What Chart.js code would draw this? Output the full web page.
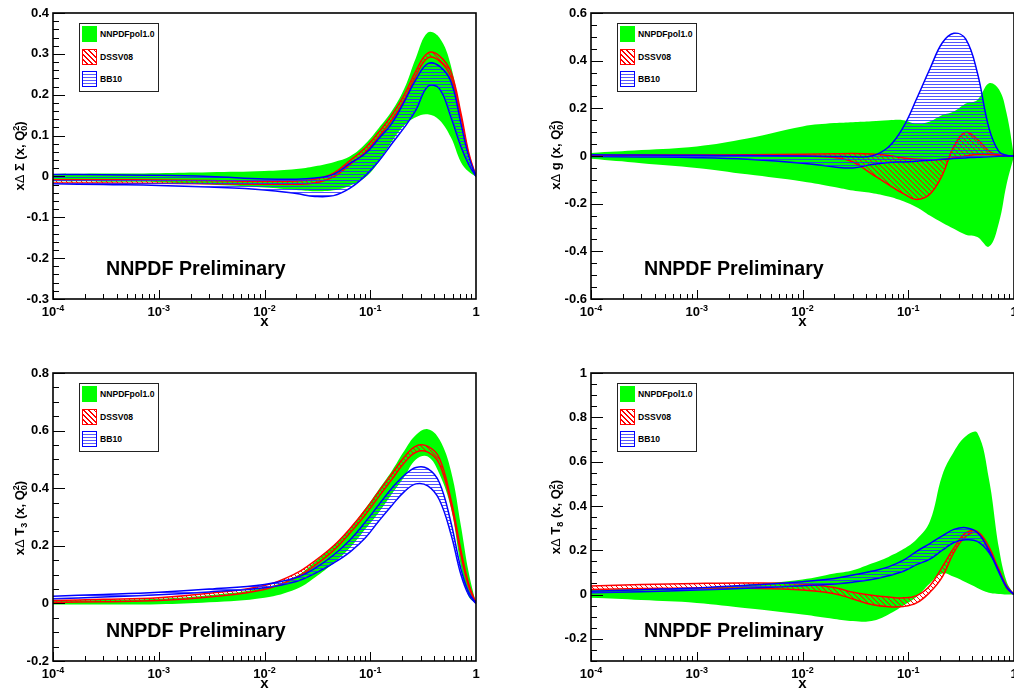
<!DOCTYPE html>
<html>
<head>
<meta charset="utf-8">
<script src="https://cdn.jsdelivr.net/npm/chart.js@4.4.1/dist/chart.umd.min.js"></script>
<style>
html,body{margin:0;padding:0;width:1014px;height:689px;overflow:hidden;background:#fff;
  font-family:'Liberation Sans',Arial,Helvetica,sans-serif;}
.panel{position:absolute;}
.panel canvas{display:block;}
.legend{position:absolute;width:80px;height:69px;border:1px solid #222;background:#fff;box-sizing:border-box;z-index:5;}
.li{position:absolute;left:2px;height:16px;display:flex;align-items:center;font-weight:bold;font-size:8.6px;color:#000;white-space:nowrap;}
.sw{width:15px;height:16px;box-sizing:border-box;margin-right:3px;flex:none;}
.sw.g{background:#00ff00;}
.sw.r{border:1.5px solid #ff0000;background:repeating-linear-gradient(45deg,#fff 0 2.6px,#ff0000 2.6px 3.6px);}
.sw.b{border:1.5px solid #0000ff;background:repeating-linear-gradient(0deg,#fff 0 2px,#5a5aff 2px 3px);}
.ytitle{position:absolute;transform:translate(-50%,-50%) rotate(-90deg);white-space:nowrap;font-weight:bold;font-size:13px;color:#000;z-index:5;}
.ytitle .d{font-weight:normal;}
.ss{display:inline-flex;flex-direction:column;font-size:9px;line-height:8px;vertical-align:5px;}
.sb{font-size:9px;vertical-align:-3px;}
.prelim{position:absolute;font-weight:bold;font-size:19.6px;line-height:20px;color:#000;white-space:nowrap;z-index:5;}
</style>
</head>
<body>
<script>
// ---------------- data ----------------
const X = [1e-4, 3e-4, 1e-3, 3e-3, 0.01, 0.02, 0.03, 0.045, 0.065, 0.09, 0.12, 0.16, 0.21, 0.27, 0.35, 0.45, 0.58, 0.72, 0.85, 1];

const X_TICK_BASE = ['10', '10', '10', '10', '1'];
const X_TICK_SUP  = ['-4', '-3', '-2', '-1', ''];
const X_TICK_VALUES = [1e-4, 1e-3, 1e-2, 1e-1, 1];

const SERIES_NAMES = ['NNPDFpol1.0', 'DSSV08', 'BB10'];

// x Delta Sigma
const SIGMA_NNPDF_UP = [0.006,0.007,0.008,0.010,0.013,0.018,0.025,0.035,0.050,0.080,0.118,0.160,0.215,0.290,0.352,0.340,0.270,0.140,0.045,0];
const SIGMA_NNPDF_LO = [-0.012,-0.013,-0.014,-0.020,-0.027,-0.033,-0.036,-0.034,-0.022,-0.002,0.035,0.085,0.125,0.145,0.152,0.138,0.095,0.035,0.012,0];
const SIGMA_DSSV_UP  = [-0.008,-0.008,-0.009,-0.010,-0.012,-0.011,-0.007,0.008,0.040,0.070,0.108,0.150,0.200,0.258,0.302,0.295,0.255,0.155,0.060,0];
const SIGMA_DSSV_LO  = [-0.016,-0.016,-0.017,-0.018,-0.019,-0.019,-0.016,-0.001,0.030,0.060,0.097,0.138,0.188,0.246,0.290,0.283,0.243,0.145,0.054,0];
const SIGMA_BB10_UP  = [0.005,0.004,0.003,0.000,-0.006,-0.007,-0.004,0.005,0.033,0.056,0.092,0.130,0.183,0.237,0.276,0.270,0.232,0.130,0.050,0];
const SIGMA_BB10_LO  = [-0.018,-0.020,-0.022,-0.026,-0.033,-0.042,-0.049,-0.047,-0.028,0.002,0.037,0.080,0.120,0.162,0.220,0.215,0.145,0.073,0.030,0];
const SIGMA_Y_TICKS  = [-0.3,-0.2,-0.1,0,0.1,0.2,0.3,0.4];

// x Delta g
const G_NNPDF_UP = [0.013,0.025,0.040,0.073,0.124,0.138,0.142,0.146,0.150,0.150,0.135,0.145,0.172,0.187,0.220,0.235,0.305,0.280,0.180,0];
const G_NNPDF_LO = [-0.012,-0.030,-0.050,-0.077,-0.107,-0.130,-0.145,-0.155,-0.170,-0.190,-0.215,-0.250,-0.280,-0.305,-0.330,-0.340,-0.380,-0.280,-0.120,0];
const G_DSSV_A   = [0.002,0.002,0.002,0.002,0.000,-0.006,-0.025,-0.075,-0.120,-0.158,-0.182,-0.160,-0.080,0.040,0.099,0.070,0.020,0.004,0.001,0];
const G_DSSV_B   = [0.003,0.004,0.004,0.005,0.007,0.009,0.010,0.008,0.002,-0.008,-0.014,-0.016,-0.015,-0.008,0.000,0.006,0.006,0.003,0.001,0];
const G_BB10_UP  = [0.005,0.004,0.003,0.002,0.000,-0.002,-0.003,0.000,0.038,0.122,0.240,0.365,0.475,0.515,0.490,0.350,0.117,0.018,0.003,0];
const G_BB10_LO  = [-0.002,-0.004,-0.007,-0.014,-0.030,-0.046,-0.050,-0.036,-0.027,-0.025,-0.022,-0.018,-0.014,-0.011,-0.008,-0.005,-0.003,-0.001,0,0];
const G_Y_TICKS  = [-0.6,-0.4,-0.2,0,0.2,0.4,0.6];

// x Delta T3
const T3_NNPDF_UP = [0.010,0.012,0.016,0.028,0.054,0.095,0.145,0.200,0.262,0.330,0.395,0.460,0.530,0.585,0.605,0.570,0.460,0.270,0.110,0];
const T3_NNPDF_LO = [-0.004,-0.004,-0.003,0.004,0.020,0.050,0.090,0.140,0.195,0.258,0.315,0.380,0.440,0.500,0.510,0.450,0.330,0.130,0.025,0];
const T3_DSSV_UP  = [0.010,0.014,0.020,0.035,0.062,0.105,0.148,0.200,0.262,0.325,0.388,0.450,0.508,0.546,0.545,0.505,0.360,0.185,0.070,0];
const T3_DSSV_LO  = [0.003,0.006,0.010,0.022,0.048,0.090,0.132,0.184,0.246,0.308,0.370,0.430,0.488,0.525,0.525,0.485,0.345,0.170,0.060,0];
const T3_BB10_UP  = [0.025,0.031,0.039,0.050,0.066,0.090,0.122,0.168,0.222,0.283,0.342,0.400,0.445,0.472,0.468,0.420,0.280,0.120,0.040,0];
const T3_BB10_LO  = [0.016,0.022,0.030,0.040,0.054,0.076,0.104,0.140,0.180,0.228,0.285,0.340,0.388,0.415,0.408,0.360,0.240,0.100,0.030,0];
const T3_Y_TICKS  = [-0.2,0,0.2,0.4,0.6,0.8];

// x Delta T8
const T8_NNPDF_UP = [0.022,0.025,0.030,0.045,0.068,0.095,0.110,0.140,0.170,0.205,0.250,0.330,0.540,0.645,0.715,0.730,0.520,0.210,0.060,0];
const T8_NNPDF_LO = [-0.015,-0.025,-0.038,-0.062,-0.090,-0.110,-0.120,-0.120,-0.090,-0.050,-0.010,0.050,0.095,0.080,0.055,0.030,0.008,0.002,0.000,0];
const T8_DSSV_UP  = [0.038,0.045,0.050,0.052,0.048,0.032,0.010,-0.003,-0.011,-0.015,-0.005,0.040,0.125,0.210,0.278,0.285,0.215,0.110,0.040,0];
const T8_DSSV_LO  = [0.023,0.027,0.030,0.028,0.020,0.004,-0.020,-0.045,-0.055,-0.054,-0.038,0.010,0.080,0.190,0.262,0.278,0.195,0.114,0.030,0];
const T8_BB10_UP  = [0.015,0.022,0.030,0.042,0.058,0.072,0.088,0.105,0.125,0.155,0.195,0.230,0.265,0.294,0.302,0.280,0.200,0.100,0.035,0];
const T8_BB10_LO  = [0.008,0.013,0.020,0.028,0.040,0.048,0.056,0.068,0.085,0.105,0.135,0.160,0.200,0.235,0.247,0.240,0.190,0.105,0.032,0];
const T8_Y_TICKS  = [-0.2,0,0.2,0.4,0.6,0.8,1];

// ---------------- drawing ----------------
const FONT = "'Liberation Sans', Arial, Helvetica, sans-serif";
Chart.defaults.font.family = FONT;
Chart.defaults.color = '#000';

function hatch(kind, color) {
  const c = document.createElement('canvas');
  const g = c.getContext('2d');
  if (kind === 'diag') {
    const s = 5; c.width = s; c.height = s;
    g.strokeStyle = color; g.lineWidth = 1;
    g.beginPath();
    g.moveTo(-1, -1); g.lineTo(s + 1, s + 1);
    g.moveTo(s - 1, -1); g.lineTo(s + 1, 1);
    g.moveTo(-1, s - 1); g.lineTo(1, s + 1);
    g.stroke();
  } else {
    c.width = 4; c.height = 3;
    g.fillStyle = color; g.fillRect(0, 0, 4, 1);
  }
  return g.createPattern(c, 'repeat');
}
const RED_HATCH = hatch('diag', '#ff0000');
const BLUE_HATCH = hatch('horiz', 'rgba(40,40,255,0.8)');

const rootAxes = {
  id: 'rootAxes',
  afterDraw(chart, args, o) {
    const { ctx, chartArea: a } = chart;
    const xs = chart.scales.x, ys = chart.scales.y;
    ctx.save();
    ctx.strokeStyle = '#000';
    ctx.lineWidth = 1;
    ctx.beginPath();
    const n = Math.round((ys.max - ys.min) / o.yMinor);
    for (let i = 0; i <= n; i++) {
      const v = ys.min + i * o.yMinor;
      const r = v / o.yMajor;
      const major = Math.abs(r - Math.round(r)) < 1e-6;
      const py = Math.round(ys.getPixelForValue(v)) + 0.5;
      ctx.moveTo(a.left, py); ctx.lineTo(a.left + (major ? 12 : 6), py);
    }
    for (let d = -4; d < 0; d++) {
      for (let k = 1; k < 10; k++) {
        const px = Math.round(xs.getPixelForValue(k * Math.pow(10, d))) + 0.5;
        ctx.moveTo(px, a.bottom); ctx.lineTo(px, a.bottom - (k === 1 ? 9 : 5));
      }
    }
    ctx.stroke();
    ctx.lineWidth = 1.6;
    ctx.strokeRect(a.left, a.top, a.right - a.left, a.bottom - a.top);
    ctx.fillStyle = '#000';
    ctx.textBaseline = 'alphabetic';
    ctx.textAlign = 'left';
    const by = a.bottom + 17;
    X_TICK_VALUES.forEach((val, i) => {
      const px = xs.getPixelForValue(val);
      ctx.font = 'bold 13px ' + FONT;
      const wb = ctx.measureText(X_TICK_BASE[i]).width;
      ctx.font = 'bold 9px ' + FONT;
      const ws = X_TICK_SUP[i] ? ctx.measureText(X_TICK_SUP[i]).width : 0;
      const x0 = px - (wb + ws) / 2;
      ctx.font = 'bold 13px ' + FONT;
      ctx.fillText(X_TICK_BASE[i], x0, by);
      if (X_TICK_SUP[i]) {
        ctx.font = 'bold 9px ' + FONT;
        ctx.fillText(X_TICK_SUP[i], x0 + wb, by - 5.5);
      }
    });
    ctx.font = 'bold 15px ' + FONT;
    ctx.textAlign = 'center';
    ctx.fillText('x', (a.left + a.right) / 2, a.bottom + 27);
    ctx.restore();
  }
};

function pts(arr) { return X.map((x, i) => ({ x: x, y: arr[i] })); }

function bandSets(up, lo, kind) {
  const base = { pointRadius: 0, pointHoverRadius: 0, tension: 0.4, cubicInterpolationMode: 'default' };
  if (kind === 'green') {
    return [
      Object.assign({ label: SERIES_NAMES[0], data: pts(up), borderWidth: 0, borderColor: 'rgba(0,0,0,0)', backgroundColor: '#00ff00', fill: '+1', order: 3 }, base),
      Object.assign({ label: SERIES_NAMES[0] + ' lo', data: pts(lo), borderWidth: 0, borderColor: 'rgba(0,0,0,0)', fill: false, order: 3 }, base)
    ];
  }
  if (kind === 'red') {
    return [
      Object.assign({ label: SERIES_NAMES[1], data: pts(up), borderWidth: 1.5, borderColor: '#ff0000', backgroundColor: RED_HATCH, fill: '+1', order: 2 }, base),
      Object.assign({ label: SERIES_NAMES[1] + ' lo', data: pts(lo), borderWidth: 1.5, borderColor: '#ff0000', fill: false, order: 2 }, base)
    ];
  }
  return [
    Object.assign({ label: SERIES_NAMES[2], data: pts(up), borderWidth: 1.5, borderColor: '#0000ff', backgroundColor: BLUE_HATCH, fill: '+1', order: 1 }, base),
    Object.assign({ label: SERIES_NAMES[2] + ' lo', data: pts(lo), borderWidth: 1.5, borderColor: '#0000ff', fill: false, order: 1 }, base)
  ];
}

const PANELS = [
  { left: 0,   top: 0,   w: 500, h: 340, area: { l: 53, t: 13,  r: 476,  b: 299 }, yMin: -0.3, yMax: 0.4, ticks: SIGMA_Y_TICKS, major: 0.1, minor: 0.02,
    title: 'x<span class="d">&#916;</span> &Sigma; (x, Q<span class="ss"><span>2</span><span>0</span></span>)', tx: 20, ty: 156,
    bands: [[SIGMA_NNPDF_UP, SIGMA_NNPDF_LO, 'green'], [SIGMA_DSSV_UP, SIGMA_DSSV_LO, 'red'], [SIGMA_BB10_UP, SIGMA_BB10_LO, 'blue']] },
  { left: 500, top: 0,   w: 530, h: 340, area: { l: 591, t: 13, r: 1014, b: 299 }, yMin: -0.6, yMax: 0.6, ticks: G_Y_TICKS, major: 0.2, minor: 0.05,
    title: 'x<span class="d">&#916;</span> g (x, Q<span class="ss"><span>2</span><span>0</span></span>)', tx: 556, ty: 155,
    bands: [[G_NNPDF_UP, G_NNPDF_LO, 'green'], [G_DSSV_A, G_DSSV_B, 'red'], [G_BB10_UP, G_BB10_LO, 'blue']] },
  { left: 0,   top: 340, w: 500, h: 349, area: { l: 53, t: 373, r: 476,  b: 661 }, yMin: -0.2, yMax: 0.8, ticks: T3_Y_TICKS, major: 0.2, minor: 0.05,
    title: 'x<span class="d">&#916;</span> T<span class="sb">3</span> (x, Q<span class="ss"><span>2</span><span>0</span></span>)', tx: 20, ty: 518,
    bands: [[T3_NNPDF_UP, T3_NNPDF_LO, 'green'], [T3_DSSV_UP, T3_DSSV_LO, 'red'], [T3_BB10_UP, T3_BB10_LO, 'blue']] },
  { left: 500, top: 340, w: 530, h: 349, area: { l: 591, t: 373, r: 1014, b: 661 }, yMin: -0.3, yMax: 1.0, ticks: T8_Y_TICKS, major: 0.2, minor: 0.05,
    title: 'x<span class="d">&#916;</span> T<span class="sb">8</span> (x, Q<span class="ss"><span>2</span><span>0</span></span>)', tx: 556, ty: 517,
    bands: [[T8_NNPDF_UP, T8_NNPDF_LO, 'green'], [T8_DSSV_UP, T8_DSSV_LO, 'red'], [T8_BB10_UP, T8_BB10_LO, 'blue']] }
];

function fmt(v) {
  if (Math.abs(v) < 1e-9) return '0';
  return String(parseFloat(v.toFixed(2)));
}

PANELS.forEach(p => {
  const div = document.createElement('div');
  div.className = 'panel';
  div.style.left = p.left + 'px'; div.style.top = p.top + 'px';
  div.style.width = p.w + 'px'; div.style.height = p.h + 'px';
  const cv = document.createElement('canvas');
  cv.width = p.w; cv.height = p.h;
  cv.style.width = p.w + 'px'; cv.style.height = p.h + 'px';
  div.appendChild(cv);
  document.body.appendChild(div);

  const yAxisW = p.area.l - p.left;
  const xAxisH = p.top + p.h - p.area.b;
  let datasets = [];
  p.bands.forEach(b => { datasets = datasets.concat(bandSets(b[0], b[1], b[2])); });

  new Chart(cv, {
    type: 'line',
    data: { datasets: datasets },
    plugins: [rootAxes],
    options: {
      responsive: false,
      animation: false,
      devicePixelRatio: 1,
      layout: { padding: { top: p.area.t - p.top, right: p.left + p.w - p.area.r, bottom: 0, left: 0 } },
      plugins: {
        legend: { display: false },
        tooltip: { enabled: false },
        rootAxes: { yMajor: p.major, yMinor: p.minor }
      },
      scales: {
        x: {
          type: 'logarithmic', min: 1e-4, max: 1,
          grid: { display: false, drawTicks: false },
          border: { display: false },
          ticks: { display: false },
          afterFit(s) { s.height = xAxisH; }
        },
        y: {
          type: 'linear', min: p.yMin, max: p.yMax,
          grid: { display: false, drawTicks: false },
          border: { display: false },
          afterBuildTicks(s) { s.ticks = p.ticks.map(v => ({ value: v })); },
          ticks: { autoSkip: false, padding: 4, color: '#000', font: { size: 13, weight: 'bold' }, callback: v => fmt(v) },
          afterFit(s) { s.width = yAxisW; }
        }
      }
    }
  });

  const lg = document.createElement('div');
  lg.className = 'legend';
  lg.style.left = (p.area.l + 26) + 'px';
  lg.style.top = (p.area.t + 10) + 'px';
  const cls = ['g', 'r', 'b'];
  [2, 25, 47].forEach((t, i) => {
    const li = document.createElement('div');
    li.className = 'li'; li.style.top = t + 'px';
    li.innerHTML = '<div class="sw ' + cls[i] + '"></div><span>' + SERIES_NAMES[i] + '</span>';
    lg.appendChild(li);
  });
  document.body.appendChild(lg);

  const yt = document.createElement('div');
  yt.className = 'ytitle';
  yt.style.left = p.tx + 'px'; yt.style.top = p.ty + 'px';
  yt.innerHTML = p.title;
  document.body.appendChild(yt);

  const pr = document.createElement('div');
  pr.className = 'prelim';
  pr.style.left = (p.area.l + 53) + 'px';
  pr.style.top = (p.area.b - 41) + 'px';
  pr.textContent = 'NNPDF Preliminary';
  document.body.appendChild(pr);
});
</script>
</body>
</html>
